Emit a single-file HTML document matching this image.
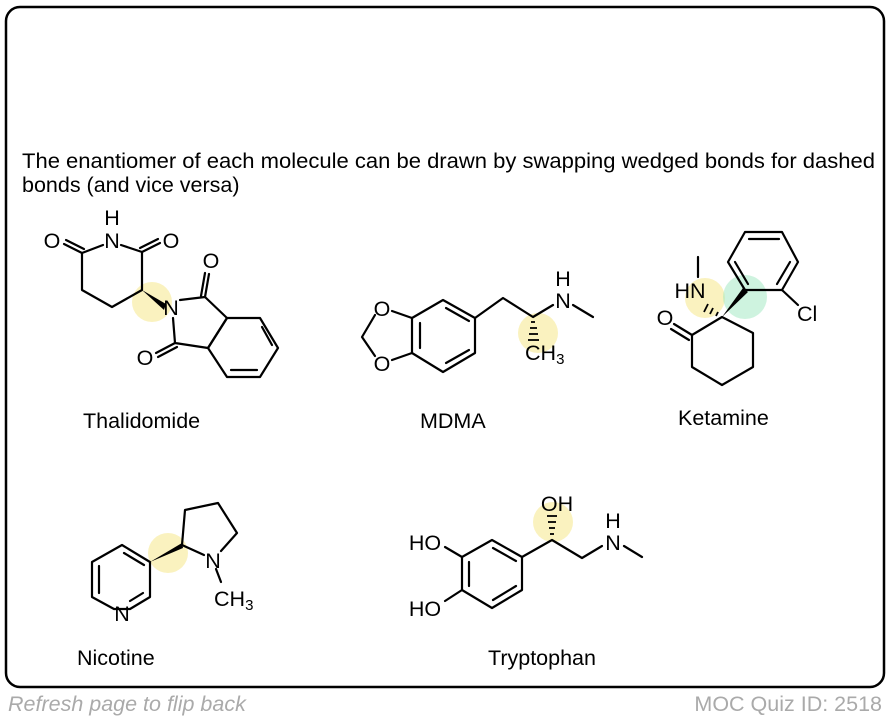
<!DOCTYPE html>
<html><head><meta charset="utf-8"><style>
html,body{margin:0;padding:0;background:#fff;}
svg{display:block;}
text{font-family:"Liberation Sans",Arial,sans-serif;fill:#000;}
</style></head><body>
<svg width="890" height="720" viewBox="0 0 890 720" xmlns="http://www.w3.org/2000/svg">
<rect x="6" y="7" width="878" height="680" rx="14" ry="14" fill="#fff" stroke="#000" stroke-width="2.5"/>
<text x="22" y="168" font-size="21.5" textLength="853" lengthAdjust="spacingAndGlyphs">The enantiomer of each molecule can be drawn by swapping wedged bonds for dashed</text>
<text x="22" y="192" font-size="21.5">bonds (and vice versa)</text>

<!-- highlights -->
<circle cx="152" cy="302" r="20" fill="#f5e88a" opacity="0.55"/>
<circle cx="538" cy="333" r="20" fill="#f5e88a" opacity="0.55"/>
<circle cx="705" cy="298" r="20" fill="#f5e88a" opacity="0.55"/>
<circle cx="745" cy="297" r="22" fill="#9ee8c0" opacity="0.5"/>
<circle cx="168" cy="553" r="20" fill="#f5e88a" opacity="0.55"/>
<circle cx="553" cy="522" r="20" fill="#f5e88a" opacity="0.55"/>

<g stroke="#000" stroke-width="2.2" fill="none" stroke-linecap="round" stroke-linejoin="round">
<!-- Thalidomide -->
<polyline points="103,245 82,253 82,290 112,307 142,290 142,252 121,245"/>
<line x1="82" y1="253" x2="64" y2="244"/><line x1="84" y1="249" x2="66" y2="240"/>
<line x1="142" y1="252" x2="160" y2="243"/><line x1="140" y1="248" x2="158" y2="239"/>
<polyline points="180,300 205,297 227,318 208,348 175,343 173,318"/>
<line x1="205" y1="297" x2="209" y2="274"/><line x1="201" y1="296" x2="205" y2="273"/>
<line x1="175" y1="343" x2="156" y2="353"/><line x1="177" y1="347" x2="158" y2="357"/>
<polygon points="227,318 260,318 278,348 260,377 227,377 208,348"/>
<line x1="262" y1="327" x2="272" y2="345"/><line x1="257" y1="370" x2="231" y2="370"/>
<!-- MDMA -->
<polygon points="412,318 443,300 475,318 475,353 443,372 412,353"/>
<line x1="420" y1="323" x2="420" y2="348"/><line x1="446" y1="308" x2="469" y2="321"/><line x1="469" y1="350" x2="446" y2="363"/>
<line x1="412" y1="318" x2="392" y2="311"/><line x1="412" y1="353" x2="392" y2="360"/>
<polyline points="375,315 362,337 375,356"/>
<polyline points="475,318 503,298 533,317 553,305"/>
<line x1="573" y1="305" x2="593" y2="317"/>
<!-- Ketamine -->
<polygon points="745,232 782,232 798,262 782,290 745,290 728,262"/>
<line x1="749" y1="239" x2="779" y2="239"/><line x1="790" y1="262" x2="777" y2="284"/><line x1="735" y1="262" x2="748" y2="284"/>
<line x1="782" y1="290" x2="798" y2="305"/>
<polyline points="692,335 692,367 722,385 753,367 753,333 722,317 692,335"/>
<line x1="692" y1="335" x2="674" y2="324"/><line x1="689" y1="340" x2="671" y2="329"/>
<line x1="698" y1="257" x2="698" y2="277"/>
<!-- Nicotine -->
<polygon points="122,545 150,562 150,597 130,609 114,609 92,597 92,562"/>
<line x1="99" y1="566" x2="99" y2="593"/><line x1="124" y1="553" x2="144" y2="565"/><line x1="143" y1="593" x2="130" y2="601"/>
<polyline points="182,545 185,510 218,503 237,533 221,551"/>
<line x1="182" y1="545" x2="204" y2="555"/>
<line x1="216" y1="569" x2="221" y2="582"/>
<!-- Tryptophan -->
<polygon points="492,540 522,557 522,590 492,608 462,590 462,557"/>
<line x1="469" y1="562" x2="469" y2="586"/><line x1="493" y1="548" x2="516" y2="561"/><line x1="516" y1="586" x2="493" y2="600"/>
<line x1="462" y1="557" x2="445" y2="547"/><line x1="462" y1="590" x2="445" y2="601"/>
<polyline points="522,557 552,540 582,558 602,546"/>
<line x1="624" y1="546" x2="642" y2="557"/>
</g>
<!-- wedges -->
<polygon points="142,290 166,304 164,310" fill="#000"/>
<polygon points="722,317 743,288 748,292" fill="#000"/>
<polygon points="150,562 182,543 183,548" fill="#000"/>
<!-- dashes -->
<g stroke="#000" stroke-width="1.8">
<line x1="531" y1="322" x2="535" y2="322"/><line x1="530" y1="328" x2="537" y2="328"/><line x1="529" y1="334" x2="538" y2="334"/><line x1="528" y1="340" x2="539" y2="340"/>
<line x1="718" y1="312" x2="716" y2="316"/><line x1="713" y1="308" x2="710" y2="314"/><line x1="708" y1="304" x2="704" y2="312"/>
<line x1="550" y1="534" x2="554" y2="534"/><line x1="549" y1="528" x2="555" y2="528"/><line x1="548" y1="522" x2="556" y2="522"/><line x1="547" y1="516" x2="557" y2="516"/>
</g>

<g font-size="21.5">
<text x="112" y="225" text-anchor="middle">H</text>
<text x="112" y="248" text-anchor="middle">N</text>
<text x="52" y="248" text-anchor="middle">O</text>
<text x="171" y="248" text-anchor="middle">O</text>
<text x="171" y="315" text-anchor="middle">N</text>
<text x="211" y="268" text-anchor="middle">O</text>
<text x="145" y="365" text-anchor="middle">O</text>
<text x="382" y="316" text-anchor="middle">O</text>
<text x="382" y="371" text-anchor="middle">O</text>
<text x="563" y="286" text-anchor="middle">H</text>
<text x="563" y="308" text-anchor="middle">N</text>
<text x="525" y="360">CH<tspan font-size="15" dy="4">3</tspan></text>
<text x="690" y="298" text-anchor="middle">HN</text>
<text x="665" y="325" text-anchor="middle">O</text>
<text x="797" y="321">Cl</text>
<text x="122" y="621" text-anchor="middle">N</text>
<text x="213" y="568" text-anchor="middle">N</text>
<text x="214" y="606">CH<tspan font-size="15" dy="4">3</tspan></text>
<text x="425" y="550" text-anchor="middle">HO</text>
<text x="425" y="616" text-anchor="middle">HO</text>
<text x="557" y="511" text-anchor="middle">OH</text>
<text x="613" y="528" text-anchor="middle">H</text>
<text x="613" y="550" text-anchor="middle">N</text>
<text x="83" y="428">Thalidomide</text>
<text x="420" y="428">MDMA</text>
<text x="678" y="425">Ketamine</text>
<text x="77" y="665">Nicotine</text>
<text x="488" y="665">Tryptophan</text>
</g>
<text x="8" y="711" font-size="21.5" font-style="italic" style="fill:#aaa">Refresh page to flip back</text>
<text x="882" y="711" font-size="21.5" text-anchor="end" style="fill:#aaa">MOC Quiz ID: 2518</text>
</svg>
</body></html>
